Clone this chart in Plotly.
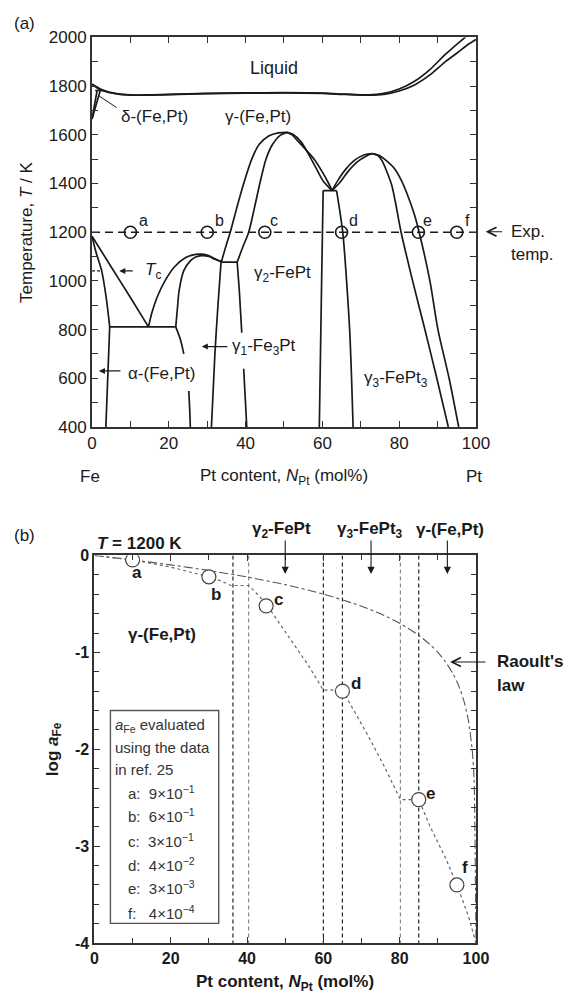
import plotly.graph_objects as go

W, H = 577, 1007
FONT = "Liberation Sans, Arial, sans-serif"
INK = "#1a1a1a"

# ---------------- (a) phase diagram data (x: mol% Pt, T: K) ----------------
liq_x = [0, 3, 6, 10, 20, 30, 40, 50, 60, 66, 72, 76, 80, 84, 88, 92, 95, 97.5, 100]
liq_T = [1808, 1783, 1770, 1764, 1766, 1770, 1772, 1773, 1771, 1767, 1764, 1770, 1788, 1820, 1868, 1930, 1972, 2005, 2045]
sol_x = [0, 2, 5, 10, 20, 30, 40, 50, 60, 66, 72, 76, 80, 84, 88, 92, 95, 98, 100]
sol_T = [1808, 1786, 1772, 1763, 1765, 1769, 1771, 1772, 1770, 1766, 1763, 1766, 1780, 1805, 1846, 1900, 1935, 1972, 1992]
delta1_x = [0, 1.2, 2.1]
delta1_T = [1665, 1735, 1780]
delta2_x = [0, 0.7, 1.3]
delta2_T = [1665, 1735, 1780]
delta_h_x = [0.8, 3.0]
delta_h_T = [1782, 1782]
alpha1_x = [0, 1, 2.5, 3.7, 4.6]
alpha1_T = [1184, 1120, 1042, 930, 811]
alpha2_x = [4.6, 4.1, 3.6]
alpha2_T = [811, 600, 400]
gam_alpha_x = [0, 5, 10, 14.7]
gam_alpha_T = [1184, 1057, 932, 811]
eut_x = [4.6, 21.8]
eut_T = [811, 811]
low1a_x = [21.8, 23.0, 23.9]
low1a_T = [811, 760, 700]
low1b_x = [25.2, 25.45, 25.6]
low1b_T = [548, 470, 400]
g1out_x = [14.7, 15.6, 17, 19, 21.5, 24.4, 27, 28.5, 30.5, 32, 33.7]
g1out_T = [811, 870, 935, 1000, 1058, 1096, 1109, 1110, 1103, 1091, 1079]
g1in_x = [21.8, 22.2, 22.7, 23.9, 25.6, 27, 28.5, 30.5, 32, 33.7]
g1in_T = [811, 880, 962, 1042, 1082, 1098, 1104, 1100, 1089, 1079]
g1r_x = [33.6, 32.8, 32.0, 31.1]
g1r_T = [1077, 900, 700, 400]
per1_x = [33.6, 37.8]
per1_T = [1077, 1077]
g2va_x = [37.8, 38.4, 39.0]
g2va_T = [1077, 950, 787]
g2vb_x = [39.5, 39.9, 40.3]
g2vb_T = [639, 520, 400]
g2Lo_x = [33.7, 35, 36, 37.7, 39.5, 41.6, 43.5, 46, 48.5, 50.8]
g2Lo_T = [1079, 1150, 1200, 1300, 1400, 1500, 1560, 1595, 1608, 1610]
g2Li_x = [37.8, 39.3, 40.8, 42.3, 43.7, 45.3, 47, 49, 50.8]
g2Li_T = [1077, 1140, 1200, 1300, 1400, 1500, 1560, 1598, 1610]
g2R1_x = [50.8, 52.5, 54.5, 56.2, 58.2, 60.2, 62.5]
g2R1_T = [1610, 1600, 1570, 1526, 1468, 1410, 1371]
g2R2_x = [50.8, 52, 53.7, 55.8, 57.9, 60, 61.7, 62.5]
g2R2_T = [1610, 1601, 1573, 1537, 1499, 1447, 1398, 1371]
per2_x = [60.2, 63.7]
per2_T = [1371, 1371]
box_l_x = [60.2, 59.8, 59.2]
box_l_T = [1371, 1000, 400]
box_r_x = [63.7, 65.3, 66.3, 67.1, 67.6, 68.0]
box_r_T = [1371, 1200, 1000, 800, 600, 400]
g3L1_x = [62.5, 64, 66, 68.5, 71, 73]
g3L1_T = [1371, 1412, 1457, 1497, 1518, 1523]
g3L2_x = [62.5, 64.6, 66.6, 69, 71.5, 73]
g3L2_T = [1371, 1405, 1448, 1488, 1513, 1523]
g3Ri_x = [73, 74.5, 75.6, 77, 78.1, 79, 80.5, 83.5, 86.7, 89.8, 92.8]
g3Ri_T = [1523, 1515, 1492, 1440, 1391, 1325, 1200, 1000, 800, 600, 400]
g3Ro_x = [73, 74.7, 76.5, 78.9, 80.5, 81.9, 84, 85.2, 88, 90.1, 93, 95.5]
g3Ro_T = [1523, 1516, 1496, 1459, 1415, 1364, 1271, 1200, 1000, 800, 600, 400]

exp_T = 1200
pts_a_x = [10, 30, 45, 65, 85, 95]
pt_labels = ["a", "b", "c", "d", "e", "f"]

# ---------------- (b) activity data ----------------
raoult_x = [0, 10, 20, 30, 40, 50, 60, 70, 75, 80, 85, 88, 90, 92, 94, 95, 96, 97, 98, 99, 99.5, 100]
raoult_y = [0, -0.046, -0.097, -0.155, -0.222, -0.301, -0.398, -0.523, -0.602, -0.699, -0.824, -0.921, -1.0,
            -1.097, -1.222, -1.301, -1.398, -1.523, -1.699, -2.0, -2.3, -4.0]
act_x = [0, 10, 20, 30, 33, 35.8, 40.4, 42, 45, 48, 52, 56, 60, 65, 68, 72, 76, 80.2, 85, 88, 92, 95, 98, 100]
act_y = [0, -0.046, -0.12, -0.22, -0.26, -0.31, -0.31, -0.37, -0.5, -0.67, -0.89, -1.13, -1.39, -1.39,
         -1.6, -1.88, -2.18, -2.52, -2.52, -2.8, -3.12, -3.4, -3.72, -4.0]
pt_x = [10, 30, 45, 65, 85, 95]
pt_log = [-0.046, -0.22, -0.52, -1.40, -2.52, -3.40]
bound_x = [36.3, 40.4, 60, 65, 80.2, 85]
bound_col = ["#222", "#888", "#222", "#222", "#888", "#222"]
legend_lines = ["a:  9×10<sup>−1</sup>", "b:  6×10<sup>−1</sup>", "c:  3×10<sup>−1</sup>",
                "d:  4×10<sup>−2</sup>", "e:  3×10<sup>−3</sup>", "f:   4×10<sup>−4</sup>"]

fig = go.Figure()

def pline(x, y, smooth=True, **kw):
    fig.add_trace(go.Scatter(x=x, y=y, mode="lines", xaxis="x", yaxis="y", showlegend=False,
                             hoverinfo="skip",
                             line=dict(color=INK, width=1.7, shape="spline" if smooth else "linear",
                                       smoothing=0.8, **kw)))

for xs, ts, sm in [(liq_x, liq_T, True), (sol_x, sol_T, True), (delta1_x, delta1_T, False),
                   (delta2_x, delta2_T, False), (delta_h_x, delta_h_T, False),
                   (alpha1_x, alpha1_T, True), (alpha2_x, alpha2_T, False),
                   (gam_alpha_x, gam_alpha_T, True), (eut_x, eut_T, False),
                   (low1a_x, low1a_T, True), (low1b_x, low1b_T, True),
                   (g1out_x, g1out_T, True), (g1in_x, g1in_T, True), (g1r_x, g1r_T, True),
                   (per1_x, per1_T, False), (g2va_x, g2va_T, True), (g2vb_x, g2vb_T, True),
                   (g2Lo_x, g2Lo_T, True), (g2Li_x, g2Li_T, True), (g2R1_x, g2R1_T, True),
                   (g2R2_x, g2R2_T, True), (per2_x, per2_T, False), (box_l_x, box_l_T, True),
                   (box_r_x, box_r_T, True), (g3L1_x, g3L1_T, True), (g3L2_x, g3L2_T, True),
                   (g3Ri_x, g3Ri_T, True), (g3Ro_x, g3Ro_T, True)]:
    pline(xs, ts, sm)

# delta leader line
fig.add_trace(go.Scatter(x=[1.6, 6.4], y=[1762, 1712], mode="lines", xaxis="x", yaxis="y",
                         showlegend=False, hoverinfo="skip", line=dict(color=INK, width=1)))
# Tc dashed
fig.add_trace(go.Scatter(x=[0, 2.6], y=[1041, 1041], mode="lines", xaxis="x", yaxis="y",
                         showlegend=False, hoverinfo="skip",
                         line=dict(color=INK, width=1.2, dash="3px,2px")))
# experimental temperature
fig.add_trace(go.Scatter(x=[0, 100], y=[exp_T, exp_T], mode="lines", xaxis="x", yaxis="y",
                         showlegend=False, hoverinfo="skip",
                         line=dict(color=INK, width=1.5, dash="8px,5px")))
fig.add_trace(go.Scatter(x=pts_a_x, y=[exp_T] * 6, mode="markers", xaxis="x", yaxis="y",
                         showlegend=False, hoverinfo="skip",
                         marker=dict(symbol="circle-open", size=12, color=INK, line=dict(width=1.6))))

# (b)
for bx, bc in zip(bound_x, bound_col):
    fig.add_trace(go.Scatter(x=[bx, bx], y=[0, -4], mode="lines", xaxis="x2", yaxis="y2",
                             showlegend=False, hoverinfo="skip",
                             line=dict(color=bc, width=1.2, dash="4px,3px")))
fig.add_trace(go.Scatter(x=raoult_x, y=raoult_y, mode="lines", xaxis="x2", yaxis="y2",
                         showlegend=False, hoverinfo="skip",
                         line=dict(color="#555", width=1.1, dash="dashdot", shape="spline", smoothing=0.6)))
fig.add_trace(go.Scatter(x=act_x, y=act_y, mode="lines", xaxis="x2", yaxis="y2",
                         showlegend=False, hoverinfo="skip",
                         line=dict(color="#666", width=1.2, dash="dot")))
fig.add_trace(go.Scatter(x=pt_x, y=pt_log, mode="markers", xaxis="x2", yaxis="y2",
                         showlegend=False, hoverinfo="skip",
                         marker=dict(symbol="circle", size=14, color="white",
                                     line=dict(color="#444", width=1.2))))

def px2(x):
    return x / W

def py2(y):
    return 1 - y / H

ann = []

def txt(text, x, y, xref="x", yref="y", size=17, xanchor="center", bold=False, color=INK, **kw):
    f = dict(family=FONT, size=size, color=color)
    if bold:
        f["weight"] = "bold"
    ann.append(dict(text=text, x=x, y=y, xref=xref, yref=yref, showarrow=False, xanchor=xanchor,
                    yanchor="middle", font=f, **kw))

def arrow(x, y, ax, ay, xref="x", yref="y", head=2, axref="pixel", ayref="pixel", size=1.0, width=1.2):
    ann.append(dict(text="", x=x, y=y, ax=ax, ay=ay, xref=xref, yref=yref, axref=axref, ayref=ayref,
                    showarrow=True, arrowhead=head, arrowsize=size, arrowwidth=width, arrowcolor=INK))

# --- (a) texts
txt("(a)", px2(7), py2(15), "paper", "paper", xanchor="left")
txt("Liquid", 47.4, 1875, size=18)
txt("γ-(Fe,Pt)", 43.1, 1674)
txt("δ-(Fe,Pt)", 7.0, 1674, xanchor="left")
txt("γ<sub>2</sub>-FePt", 41.6, 1029, xanchor="left")
txt("γ<sub>1</sub>-Fe<sub>3</sub>Pt", 36.0, 730, xanchor="left")
txt("α-(Fe,Pt)", 8.8, 618, xanchor="left")
txt("<i>T</i><sub>c</sub>", 13.3, 1041, xanchor="left")
txt("γ<sub>3</sub>-FePt<sub>3</sub>", 70.3, 598, xanchor="left")
for lx, lab in zip([13.4, 33.2, 47.4, 68.0, 87.4, 97.8], pt_labels):
    txt(lab, lx, 1250, size=16)
arrow(7.1, 1041, 15, 0)
arrow(1.8, 630, 23, 0)
arrow(28.6, 730, 27, 0)
arrow(px2(497), py2(227), 18, 0, "paper", "paper", head=5, size=1.6, width=1.1)
txt("Exp.", px2(521), py2(227), "paper", "paper", xanchor="left")
txt("temp.", px2(521), py2(250), "paper", "paper", xanchor="left")
txt("Fe", px2(88), py2(477), "paper", "paper")
txt("Pt content, <i>N</i><sub>Pt</sub> (mol%)", px2(289), py2(477), "paper", "paper")
txt("Pt", px2(485), py2(477), "paper", "paper")
txt("Temperature, <i>T</i> / K", px2(22), py2(228), "paper", "paper", textangle=-90)

# --- (b) texts
txt("(b)", px2(7), py2(537), "paper", "paper", xanchor="left")
txt("<i>T</i> = 1200 K", px2(93), py2(545), "paper", "paper", xanchor="left", bold=True)
txt("γ<sub>2</sub>-FePt", px2(286), py2(531), "paper", "paper", bold=True)
txt("γ<sub>3</sub>-FePt<sub>3</sub>", px2(377), py2(531), "paper", "paper", bold=True)
txt("γ-(Fe,Pt)", px2(460), py2(531), "paper", "paper", bold=True)
for ax_x in [50, 72.5, 92.5]:
    arrow(ax_x, -0.19, ax_x, 0.17, "x2", "y2", head=2, axref="x2", ayref="y2", size=1.3, width=1.1)
txt("γ-(Fe,Pt)", 17.6, -0.82, "x2", "y2", bold=True)
for (lx, ly), lab in zip([(11.2, -0.18), (31.8, -0.40), (48.3, -0.45), (68.6, -1.32), (88.1, -2.46), (97.0, -3.22)],
                         pt_labels):
    txt(lab, lx, ly, "x2", "y2", size=17, bold=True)
arrow(93.2, -1.1, 37, 0, "x2", "y2", head=5, size=1.6, width=1.1)
txt("Raoult's", px2(507), py2(665), "paper", "paper", xanchor="left", bold=True)
txt("law", px2(507), py2(690), "paper", "paper", xanchor="left", bold=True)
txt("<i>a</i><sub>Fe</sub> evaluated", px2(112), py2(730), "paper", "paper", xanchor="left", size=15, color="#333")
txt("using the data", px2(112), py2(753), "paper", "paper", xanchor="left", size=15, color="#333")
txt("in ref. 25", px2(112), py2(775), "paper", "paper", xanchor="left", size=15, color="#333")
for i, line in enumerate(legend_lines):
    yy = [799, 822, 847, 872, 895, 921][i]
    txt(line, px2(125), py2(yy), "paper", "paper", xanchor="left", size=15, color="#333")
txt("log <i>a</i><sub>Fe</sub>", px2(50), py2(754), "paper", "paper", textangle=-90, bold=True)
txt("Pt content, <i>N</i><sub>Pt</sub> (mol%)", px2(290), py2(993), "paper", "paper", bold=True)

shapes = [dict(type="rect", xref="paper", yref="paper", x0=px2(109), x1=px2(221), y0=py2(932), y1=py2(715),
               line=dict(color="#555", width=1.4), fillcolor="rgba(0,0,0,0)")]

axcommon = dict(showline=True, linewidth=2, linecolor="#333", mirror="ticks", ticks="inside",
                ticklen=6, tickwidth=1.4, tickcolor="#333", showgrid=False, zeroline=False,
                tickfont=dict(family=FONT, size=17, color=INK))

fig.update_layout(
    width=W, height=H, autosize=False, margin=dict(l=0, r=0, t=0, b=0),
    paper_bgcolor="white", plot_bgcolor="white", showlegend=False,
    xaxis=dict(domain=[px2(90), px2(487)], range=[0, 100], anchor="y", tickvals=[0, 20, 40, 60, 80, 100],
               minor=dict(dtick=10, ticks="inside", ticklen=6, tickwidth=1.4, tickcolor="#333"), **axcommon),
    yaxis=dict(domain=[py2(426), py2(29)], range=[400, 2000], anchor="x", dtick=200,
               minor=dict(dtick=100, ticks="inside", ticklen=6, tickwidth=1.4, tickcolor="#333"), **axcommon),
    xaxis2=dict(domain=[px2(92.5), px2(487)], range=[0, 100], anchor="y2", tickvals=[0, 20, 40, 60, 80, 100],
                minor=dict(dtick=10, ticks="inside", ticklen=5, tickwidth=1.4, tickcolor="#333"),
                **{**axcommon, "tickfont": dict(family=FONT, size=16, color=INK, weight="bold")}),
    yaxis2=dict(domain=[py2(952), py2(557)], range=[-4, 0], anchor="x2", tickvals=[-4, -3, -2, -1, 0],
                ticktext=["-4", "-3", "-2", "-1", "0"],
                minor=dict(dtick=0.2, ticks="inside", ticklen=5, tickwidth=1.4, tickcolor="#333"),
                **{**axcommon, "tickfont": dict(family=FONT, size=16, color=INK, weight="bold")}),
    annotations=ann, shapes=shapes,
)

fig.write_html("out.html")
